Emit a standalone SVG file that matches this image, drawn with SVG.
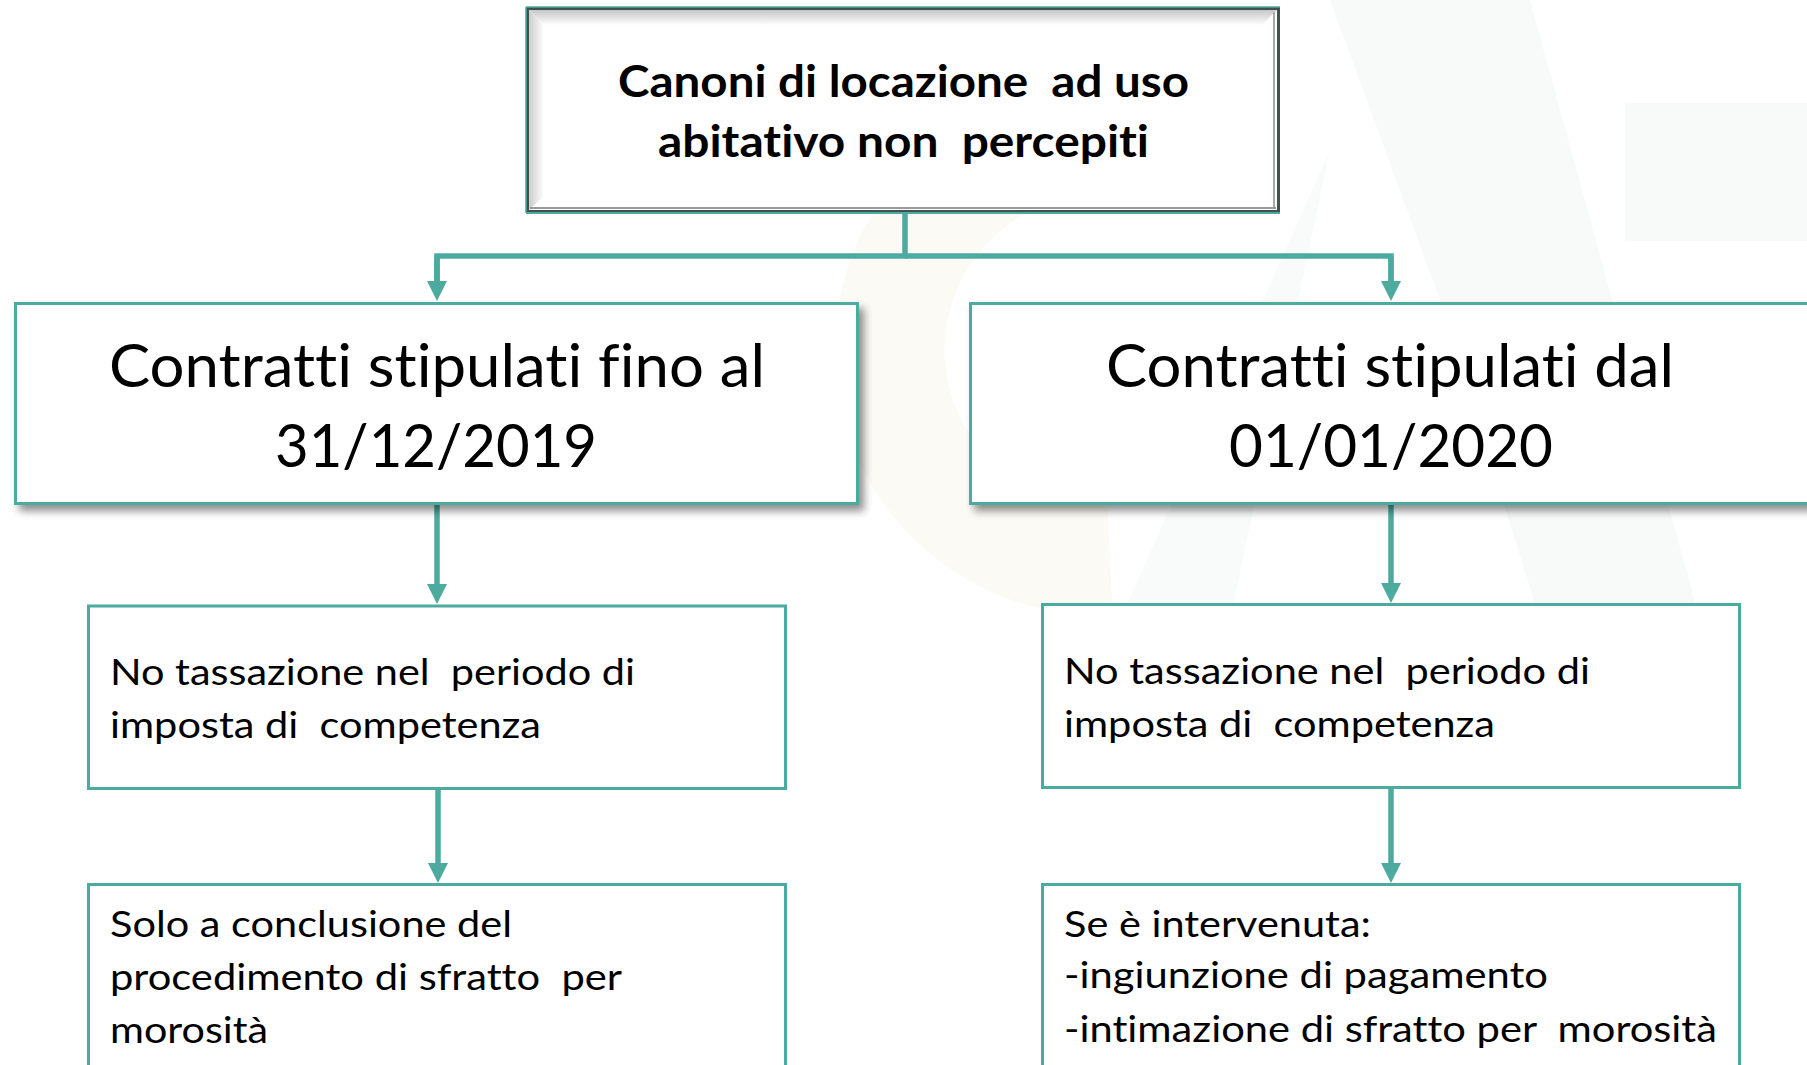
<svg xmlns="http://www.w3.org/2000/svg" width="1807" height="1065" viewBox="0 0 1807 1065">
  <defs>
    <style>
      .t { font-family: Lato, "Open Sans", "Liberation Sans", sans-serif; fill: #000; white-space: pre; font-variant-ligatures: none; font-feature-settings: "liga" 0; }
      .title { font-size: 44px; font-weight: 700; }
      .mid { font-size: 60px; }
      .small { font-size: 37px; }
      .box { fill: #fff; stroke: #4DAA9E; stroke-width: 3; }
      .conn { fill: none; stroke: #4DAA9E; stroke-width: 5.5; }
    </style>
    <marker id="arrow" viewBox="0 0 20 20" refX="0" refY="10" markerWidth="20" markerHeight="20" markerUnits="userSpaceOnUse" orient="auto">
      <path d="M0,0 L20,10 L0,20 Z" fill="#4DAA9E"/>
    </marker>
    <filter id="shadow" x="-5%" y="-10%" width="115%" height="130%">
      <feGaussianBlur in="SourceAlpha" stdDeviation="4"/>
      <feOffset dx="5" dy="6" result="b"/>
      <feComponentTransfer><feFuncA type="linear" slope="0.45"/></feComponentTransfer>
      <feMerge><feMergeNode/><feMergeNode in="SourceGraphic"/></feMerge>
    </filter>
    <linearGradient id="bevTop" x1="0" y1="0" x2="0" y2="1">
      <stop offset="0" stop-color="#c6c6c6"/>
      <stop offset="1" stop-color="#ffffff"/>
    </linearGradient>
    <linearGradient id="bevLeft" x1="0" y1="0" x2="1" y2="0">
      <stop offset="0" stop-color="#cccccc"/>
      <stop offset="1" stop-color="#ffffff"/>
    </linearGradient>
  </defs>

  <rect width="1807" height="1065" fill="#fff"/>

  <g id="watermark">
    <path d="M1090,140 A205,205 0 1 0 1110,560" fill="none" stroke="#fcfaf4" stroke-width="110"/>
    <polygon points="1330,0 1530,0 1700,620 1540,620 1440,300" fill="#f8fafa"/>
    <polygon points="1330,150 1230,620 1120,620" fill="#f9fbfb"/>
    <rect x="1625" y="103" width="182" height="138" fill="#f8fafa"/>
  </g>

  <g id="connectors">
    <polyline class="conn" points="905,213 905,256 437,256 437,281"/>
    <polyline class="conn" points="905,256 1391,256 1391,281"/>
    <line class="conn" x1="437" y1="256" x2="437" y2="281" marker-end="url(#arrow)"/>
    <line class="conn" x1="1391" y1="256" x2="1391" y2="281" marker-end="url(#arrow)"/>
    <line class="conn" x1="437" y1="505" x2="437" y2="584" marker-end="url(#arrow)"/>
    <line class="conn" x1="1391" y1="505" x2="1391" y2="583" marker-end="url(#arrow)"/>
    <line class="conn" x1="438" y1="790" x2="438" y2="863" marker-end="url(#arrow)"/>
    <line class="conn" x1="1391" y1="789" x2="1391" y2="863" marker-end="url(#arrow)"/>
  </g>

  <g id="node-top">
    <rect x="527.5" y="8.5" width="751" height="203" fill="#fff" stroke="#3f5250" stroke-width="3"/>
    <polygon points="529,10 1277,10 1262,25 544,25" fill="url(#bevTop)"/>
    <polygon points="529,10 544,25 544,196 529,210" fill="url(#bevLeft)"/>
    <line x1="1274" y1="12" x2="1274" y2="208" stroke="#a8a8a8" stroke-width="2"/>
    <line x1="530" y1="208" x2="1276" y2="208" stroke="#9a9a9a" stroke-width="2"/>
    <line x1="526" y1="7" x2="1280" y2="7" stroke="#4DAA9E" stroke-width="1.5"/>
    <line x1="526" y1="7" x2="526" y2="213" stroke="#4DAA9E" stroke-width="1.5"/>
    <line x1="526" y1="213" x2="1280" y2="213" stroke="#4DAA9E" stroke-width="2"/>
    <text class="t title" x="618" y="97" textLength="571" lengthAdjust="spacingAndGlyphs">Canoni di locazione  ad uso</text>
    <text class="t title" x="658" y="157" textLength="491" lengthAdjust="spacingAndGlyphs">abitativo non  percepiti</text>
  </g>

  <g id="node-left-mid" filter="url(#shadow)">
    <rect class="box" x="15.5" y="303.5" width="842" height="200"/>
    <text class="t mid" x="109" y="387" textLength="656" lengthAdjust="spacingAndGlyphs">Contratti stipulati fino al</text>
    <text class="t mid" x="275" y="467" textLength="322" lengthAdjust="spacingAndGlyphs">31/12/2019</text>
  </g>

  <g id="node-right-mid" filter="url(#shadow)">
    <rect class="box" x="970.5" y="303.5" width="842" height="200"/>
    <text class="t mid" x="1106" y="387" textLength="568" lengthAdjust="spacingAndGlyphs">Contratti stipulati dal</text>
    <text class="t mid" x="1229" y="467" textLength="324" lengthAdjust="spacingAndGlyphs">01/01/2020</text>
  </g>

  <g id="node-left-1">
    <rect class="box" x="88.5" y="606" width="697" height="182.5"/>
    <text class="t small" x="110" y="685" textLength="525" lengthAdjust="spacingAndGlyphs">No tassazione nel  periodo di</text>
    <text class="t small" x="110" y="738" textLength="431" lengthAdjust="spacingAndGlyphs">imposta di  competenza</text>
  </g>

  <g id="node-right-1">
    <rect class="box" x="1042.5" y="604.5" width="697" height="183"/>
    <text class="t small" x="1064" y="684" textLength="526" lengthAdjust="spacingAndGlyphs">No tassazione nel  periodo di</text>
    <text class="t small" x="1064" y="737" textLength="431" lengthAdjust="spacingAndGlyphs">imposta di  competenza</text>
  </g>

  <g id="node-left-2">
    <rect class="box" x="88.5" y="884.5" width="697" height="200"/>
    <text class="t small" x="110" y="937" textLength="402" lengthAdjust="spacingAndGlyphs">Solo a conclusione del</text>
    <text class="t small" x="110" y="990" textLength="512" lengthAdjust="spacingAndGlyphs">procedimento di sfratto  per</text>
    <text class="t small" x="110" y="1043" textLength="158" lengthAdjust="spacingAndGlyphs">morosità</text>
  </g>

  <g id="node-right-2">
    <rect class="box" x="1042.5" y="884.5" width="697" height="200"/>
    <text class="t small" x="1064" y="937" textLength="307" lengthAdjust="spacingAndGlyphs">Se è intervenuta:</text>
    <text class="t small" x="1064" y="988" textLength="484" lengthAdjust="spacingAndGlyphs">-ingiunzione di pagamento</text>
    <text class="t small" x="1064" y="1042" textLength="653" lengthAdjust="spacingAndGlyphs">-intimazione di sfratto per  morosità</text>
  </g>
</svg>
